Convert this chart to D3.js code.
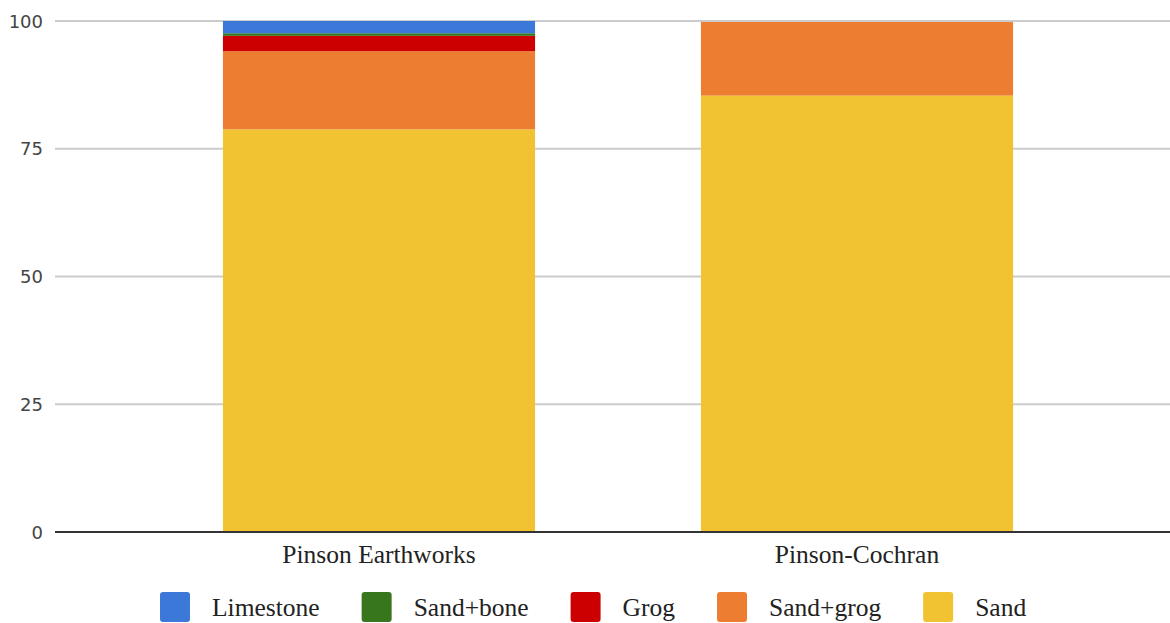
<!DOCTYPE html>
<html>
<head>
<meta charset="utf-8">
<script src="https://cdn.jsdelivr.net/npm/d3@7"></script>
<style>
  html, body { margin: 0; padding: 0; background: #fff; }
  svg { display: block; }
</style>
</head>
<body>
<svg id="chart" width="1170" height="623"></svg>
<script>
// Temper composition (%) at two sites
const categories = ["Pinson Earthworks", "Pinson-Cochran"];
const seriesNames = ["Limestone", "Sand+bone", "Grog", "Sand+grog", "Sand"];
const seriesColors = ["#3c78d8", "#38761d", "#cc0000", "#ed7d31", "#f1c232"];
const limestone = [2.4, 0];
const sandBone  = [0.5, 0];
const grog      = [3.0, 0];
const sandGrog  = [15.3, 14.4];
const sand      = [78.8, 85.4];
const yTicks = [0, 25, 50, 75, 100];

const valuesBySeries = {
  "Limestone": limestone,
  "Sand+bone": sandBone,
  "Grog": grog,
  "Sand+grog": sandGrog,
  "Sand": sand
};

const rows = categories.map((c, i) => {
  const r = { category: c };
  seriesNames.forEach(s => { r[s] = valuesBySeries[s][i]; });
  return r;
});

const svg = d3.select("#chart");
const plotLeft = 55, plotRight = 1170, plotTop = 21, plotBottom = 532;
const serif = "Liberation Serif, Times New Roman, serif";

const x = d3.scaleBand()
  .domain(categories)
  .range([140, 1096])
  .paddingInner(0.347)
  .paddingOuter(0.1735);

const y = d3.scaleLinear().domain([0, 100]).range([plotBottom, plotTop]);

// Gridlines
svg.append("g")
  .selectAll("line")
  .data(yTicks.filter(t => t !== 0))
  .join("line")
  .attr("x1", plotLeft).attr("x2", plotRight)
  .attr("y1", d => y(d)).attr("y2", d => y(d))
  .attr("stroke", "#cccccc").attr("stroke-width", 2);

// Y tick labels
svg.append("g")
  .selectAll("text")
  .data(yTicks)
  .join("text")
  .attr("x", 43)
  .attr("y", d => y(d))
  .attr("text-anchor", "end")
  .attr("dominant-baseline", "central")
  .attr("font-family", "DejaVu Sans, Verdana, sans-serif")
  .attr("font-size", 18)
  .attr("fill", "#444")
  .text(d => d);

// Stacked bars: Sand at the bottom, Limestone on top
const stackOrder = seriesNames.slice().reverse();
const stacked = d3.stack().keys(stackOrder)(rows);
const color = d3.scaleOrdinal().domain(seriesNames).range(seriesColors);

svg.append("g")
  .selectAll("g")
  .data(stacked)
  .join("g")
  .attr("fill", d => color(d.key))
  .selectAll("rect")
  .data(d => d.filter(p => p[1] - p[0] > 0))
  .join("rect")
  .attr("x", d => x(d.data.category))
  .attr("width", x.bandwidth())
  .attr("y", d => y(d[1]))
  .attr("height", d => y(d[0]) - y(d[1]));

// Baseline
svg.append("line")
  .attr("x1", plotLeft).attr("x2", plotRight)
  .attr("y1", y(0)).attr("y2", y(0))
  .attr("stroke", "#333").attr("stroke-width", 2);

// Category labels
svg.append("g")
  .selectAll("text")
  .data(categories)
  .join("text")
  .attr("x", d => x(d) + x.bandwidth() / 2)
  .attr("y", 554)
  .attr("text-anchor", "middle")
  .attr("dominant-baseline", "central")
  .attr("font-family", serif)
  .attr("font-size", 25.5)
  .attr("fill", "#222")
  .text(d => d);

// Legend
const legend = svg.append("g").attr("font-family", serif)
  .attr("font-size", 25.5).attr("fill", "#222");
let lx = 160;
seriesNames.forEach((name, i) => {
  const g = legend.append("g");
  g.append("rect")
    .attr("x", lx).attr("y", 592)
    .attr("width", 30).attr("height", 30)
    .attr("rx", 3)
    .attr("fill", seriesColors[i]);
  const t = g.append("text")
    .attr("x", lx + 52).attr("y", 607)
    .attr("dominant-baseline", "central")
    .text(name);
  const w = t.node().getComputedTextLength();
  lx += 52 + w + 42;
});
</script>
</body>
</html>
